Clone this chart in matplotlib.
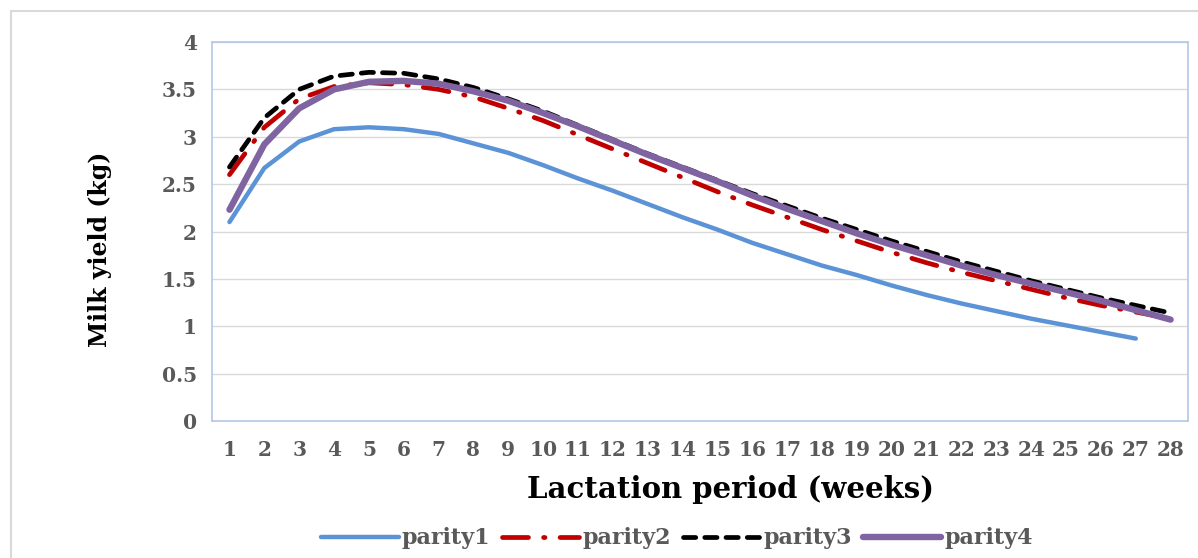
import matplotlib.pyplot as plt
import matplotlib.patches as mpatches

weeks = list(range(1, 29))
week_labels = [str(w) for w in weeks]

parity1 = [2.10, 2.67, 2.95, 3.08, 3.10, 3.08, 3.03, 2.93, 2.83, 2.70,
           2.56, 2.43, 2.29, 2.15, 2.02, 1.88, 1.76, 1.64, 1.54, 1.43,
           1.33, 1.24, 1.16, 1.08, 1.01, 0.94, 0.87]
parity2 = [2.60, 3.10, 3.40, 3.53, 3.57, 3.55, 3.50, 3.42, 3.30, 3.17,
           3.02, 2.87, 2.72, 2.57, 2.42, 2.28, 2.15, 2.02, 1.90, 1.78,
           1.67, 1.57, 1.48, 1.39, 1.30, 1.22, 1.15, 1.08]
parity3 = [2.68, 3.20, 3.50, 3.64, 3.68, 3.67, 3.61, 3.52, 3.40, 3.27,
           3.12, 2.97, 2.82, 2.68, 2.54, 2.40, 2.27, 2.14, 2.02, 1.90,
           1.79, 1.68, 1.58, 1.48, 1.39, 1.30, 1.22, 1.14]
parity4 = [2.23, 2.92, 3.30, 3.50, 3.58, 3.59, 3.56, 3.48, 3.38, 3.25,
           3.11, 2.96, 2.81, 2.67, 2.53, 2.38, 2.24, 2.11, 1.98, 1.86,
           1.75, 1.64, 1.54, 1.45, 1.36, 1.27, 1.17, 1.07]

plt.rcParams["font.family"] = ["DejaVu Serif"]

fig = plt.figure(figsize=(11.98, 5.58), dpi=100)
ax = fig.add_axes([0.177, 0.2455, 0.8147, 0.6792])

# outer chart border (Excel-style frame)
fig.patches.append(mpatches.Rectangle((11 / 1198, -0.1), 1.2, 1.1 - 11 / 558,
                                      transform=fig.transFigure, fill=False,
                                      edgecolor="#D9D9D9", linewidth=1.5))

ax.plot(weeks[:len(parity1)], parity1, color="#5B93D6", lw=3.2,
        solid_capstyle="round", label="parity1", zorder=3)
ax.plot(weeks, parity2, color="#C00000", lw=3.4, dash_capstyle="round",
        dashes=(5.5, 3.2, 0.3, 3.2), label="parity2", zorder=4)
ax.plot(weeks, parity3, color="black", lw=3.4, dash_capstyle="round",
        dashes=(2.6, 1.9), label="parity3", zorder=5)
ax.plot(weeks, parity4, color="#8064A2", lw=4.6, solid_capstyle="round",
        label="parity4", zorder=6)

ax.set_xlim(0.5, 28.5)
ax.set_ylim(0, 4)
ax.set_xticks(weeks)
ax.set_xticklabels(week_labels)
ax.set_yticks([0, 0.5, 1, 1.5, 2, 2.5, 3, 3.5, 4])
ax.set_yticklabels(["0", "0.5", "1", "1.5", "2", "2.5", "3", "3.5", "4"])
ax.tick_params(length=0, labelsize=14.5, labelcolor="#595959")
ax.tick_params(axis="x", pad=14)
ax.tick_params(axis="y", pad=11)
for lab in ax.get_xticklabels() + ax.get_yticklabels():
    lab.set_fontweight("bold")
ax.grid(axis="y", color="#D9D9D9", lw=1)
ax.set_axisbelow(True)
for sp in ax.spines.values():
    sp.set_color("#B4C7E7")
    sp.set_linewidth(1.2)

ax.set_xlabel("Lactation period (weeks)", fontsize=21, fontweight="bold",
              va="center", ha="center")
ax.xaxis.set_label_coords(0.531, -0.182)
ax.set_ylabel("Milk yield (kg)", fontsize=17, fontweight="bold",
              va="center", ha="center")
ax.yaxis.set_label_coords(-0.1148, 0.454)

leg = fig.legend(loc="center", bbox_to_anchor=(0.565, 0.035), ncol=4, frameon=False,
                 handlelength=3.5, handletextpad=0.15, columnspacing=0.5,
                 prop={"size": 16, "weight": "bold"})
for t in leg.get_texts():
    t.set_color("#595959")

fig.savefig("out.png", dpi=100, facecolor="white")
